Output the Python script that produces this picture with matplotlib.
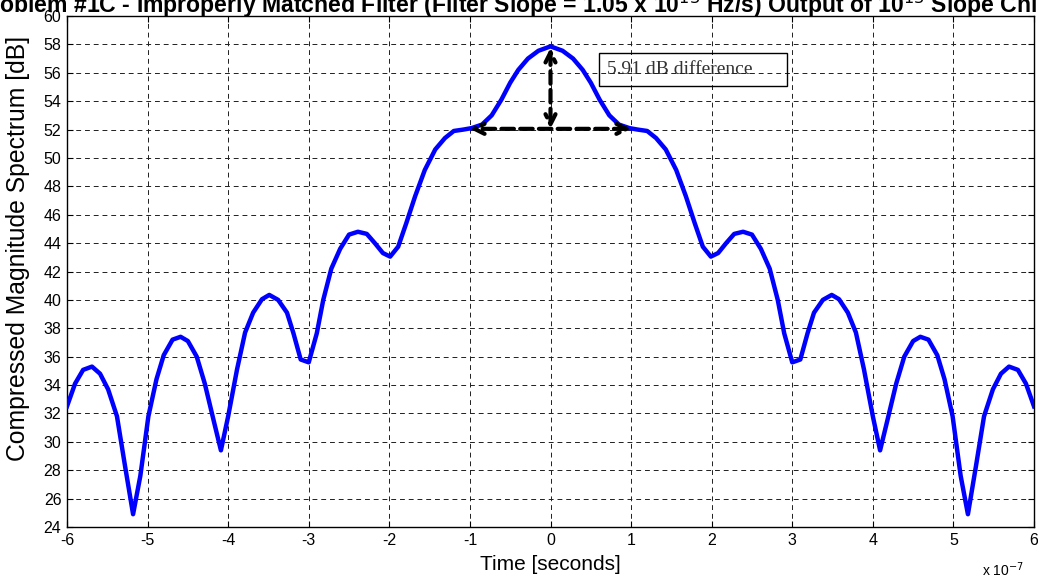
import numpy as np
import matplotlib
matplotlib.use("Agg")
import matplotlib.pyplot as plt
from matplotlib.patches import Rectangle

# left half of the curve (time in units of 1e-7 s, magnitude in dB); right half is the mirror
t_left = [-6.0, -5.90, -5.80, -5.69, -5.59, -5.49, -5.38, -5.28, -5.18, -5.09,
          -4.99, -4.89, -4.80, -4.69, -4.59, -4.50, -4.39, -4.29, -4.18, -4.09,
          -4.00, -3.89, -3.79, -3.69, -3.58, -3.49, -3.38, -3.27, -3.19, -3.10,
          -3.00, -2.90, -2.82, -2.72, -2.61, -2.50, -2.39, -2.28, -2.18, -2.08,
          -1.99, -1.89, -1.79, -1.68, -1.56, -1.43, -1.31, -1.20, -1.08, -0.98,
          -0.85, -0.73, -0.61, -0.50, -0.40, -0.28, -0.15]
db_left = [32.5, 34.1, 35.07, 35.3, 34.8, 33.7, 31.8, 28.3, 24.9, 27.6,
           31.8, 34.4, 36.1, 37.2, 37.4, 37.1, 36.0, 34.1, 31.5, 29.4,
           31.8, 35.1, 37.7, 39.1, 40.05, 40.35, 40.0, 39.1, 37.65, 35.8,
           35.6, 37.65, 40.0, 42.2, 43.6, 44.6, 44.8, 44.65, 44.0, 43.3,
           43.05, 43.75, 45.4, 47.3, 49.15, 50.6, 51.4, 51.9, 52.0, 52.1,
           52.35, 53.0, 54.1, 55.3, 56.2, 57.0, 57.55]
peak_db = 57.86
shoulder_db = 51.95
x_ticks = list(range(-6, 7))
y_ticks = list(range(24, 61, 2))

t = np.array(t_left + [0.0] + [-v for v in t_left[::-1]])
db = np.array(db_left + [peak_db] + db_left[::-1])

plt.rcParams['font.family'] = ['Liberation Sans', 'DejaVu Sans']

fig = plt.figure(figsize=(10.38, 5.84), dpi=100)
ax = fig.add_axes([67 / 1038, 1 - 527 / 584, 967 / 1038, 511 / 584])

ax.plot(t, db, color="#0000ff", linewidth=3.2, zorder=3)

ax.set_xlim(-6, 6)
ax.set_ylim(24, 60)
ax.set_xticks(x_ticks)
ax.set_yticks(y_ticks)
ax.set_xticklabels([str(v) for v in x_ticks], fontsize=11.5)
ax.set_yticklabels([str(v) for v in y_ticks], fontsize=11.5)
ax.tick_params(direction="in", length=4, width=0.8, top=True, right=True, pad=4)
ax.grid(True, color="#202020", linestyle=(0, (5, 4)), linewidth=0.7)
for s in ax.spines.values():
    s.set_linewidth(1.0)

ax.set_xlabel("Time [seconds]", fontsize=15, labelpad=5)
ax.set_ylabel("Compressed Magnitude Spectrum [dB]", fontsize=17.8)
ax.yaxis.set_label_coords(-0.038, 0.546)
fig.text(1003 / 1038, 1 - 576 / 584, r"x 10$^{-7}$", fontsize=10, ha="center", va="baseline")

# title runs off both edges of the figure, as in the original export
fig.text(518 / 1038, 1 - 12.5 / 584,
         r"Problem #1C - Improperly Matched Filter (Filter Slope = 1.05 x 10$^{13}$ Hz/s) "
         r"Output of 10$^{13}$ Slope Chirp",
         fontsize=16.6, fontweight="bold", ha="center", va="baseline")

# dashed double arrows marking the difference
arrow_style = dict(arrowstyle="<->", color="black", linewidth=3, linestyle=(0, (3, 1.5)),
                   mutation_scale=18, shrinkA=0, shrinkB=0)
ax.annotate("", xy=(-1.0, shoulder_db + 0.1), xytext=(1.0, shoulder_db + 0.1),
            arrowprops=arrow_style, zorder=4)
ax.annotate("", xy=(0, shoulder_db + 0.1), xytext=(0, peak_db - 0.1),
            arrowprops=arrow_style, zorder=4)

ax.add_patch(Rectangle((0.60, 55.07), 2.33, 2.33, facecolor="none", edgecolor="black",
                       linewidth=1, zorder=2))
ax.text(0.70, 56.2, "5.91 dB difference", fontsize=14, family="Liberation Serif",
        color="#333333", ha="left", va="center", zorder=1)

fig.savefig("out.png", dpi=100)
